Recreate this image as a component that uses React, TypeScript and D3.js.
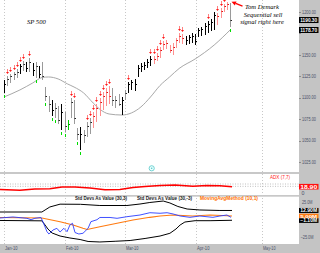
import React from "react";
import * as d3 from "d3";

const monthLabels = ["Jan-10", "Feb-10", "Mar-10", "Apr-10", "May-10"];
const monthPos = [0, 19.2, 38, 60.3, 81];
const priceTicks = [1025, 1050, 1075, 1100, 1125, 1150, 1175, 1200];

const highs = [1120.5,1125.2,1127.5,1129.8,1133.3,1139.1,1142.6,1141.4,1146.1,1140.3,
 1141.4,1136.8,1141.4,1112.3,1101.9,1097.2,1093.7,1090.2,1092.6,1083.2,
 1073.9,1099.5,1097.2,1064.6,1065.8,1062.3,1071.6,1076.3,1083.2,1092.6,
 1099.5,1106.5,1111.2,1113.5,1111.2,1101.9,1104.2,1100.7,1108.9,1118.2,
 1120.5,1121.7,1138.0,1140.3,1141.4,1144.9,1148.4,1148.4,1151.9,1158.9,
 1165.9,1167.1,1161.2,1163.6,1169.4,1175.2,1174.0,1171.7,1172.9,1175.2,
 1174.0,1181.0,1182.2,1186.8,1189.2,1191.5,1199.7,1198.5,1204.3,1209.0,
 1211.3,1210.1];
const lows = [1105.4,1113.5,1117.0,1120.5,1122.8,1127.5,1131.0,1129.8,1129.8,1125.2,
 1122.8,1122.8,1120.5,1096.0,1083.2,1078.6,1076.3,1069.3,1062.3,1060.0,
 1062.3,1076.3,1069.3,1050.6,1039.0,1047.2,1054.1,1057.6,1064.6,1071.6,
 1078.6,1085.6,1090.2,1092.6,1090.2,1087.9,1090.2,1079.7,1097.2,1105.4,
 1108.9,1107.7,1124.0,1129.8,1132.1,1134.5,1136.8,1139.1,1142.6,1146.1,
 1155.4,1156.6,1151.9,1149.6,1157.7,1163.6,1162.4,1161.2,1162.4,1163.6,
 1161.2,1170.6,1171.7,1172.9,1175.2,1177.5,1178.7,1184.5,1192.7,1199.7,
 1202.0,1182.2];
const closes = [1115.8,1121.7,1125.2,1127.5,1129.8,1136.8,1139.1,1134.5,1141.4,1132.1,
 1136.8,1127.5,1125.2,1101.9,1092.6,1085.6,1087.9,1073.9,1083.2,1066.9,
 1069.3,1094.9,1076.3,1057.6,1057.6,1056.5,1066.9,1071.6,1078.6,1087.9,
 1094.9,1101.9,1106.5,1101.9,1097.2,1097.2,1092.6,1097.2,1105.4,1115.8,
 1118.2,1115.8,1134.5,1136.8,1138.0,1141.4,1144.9,1144.9,1148.4,1155.4,
 1162.4,1163.6,1155.4,1158.9,1167.1,1171.7,1169.4,1167.1,1170.6,1171.7,
 1165.9,1178.7,1179.9,1183.4,1185.7,1188.0,1196.2,1195.0,1200.8,1206.6,
 1209.0,1190.3];
const barKinds = "kggggkgkgk" + "gkgggkggkg" + "Ggggkgggpp" + "ppppgggkgk" +
  "kkkkkkkppp" + "pppppppkkk" + "kkkkkkkppp" + "pg";
const redMarkIdx = [1,2,3,4,5,6,8,21,22,26,27,28,29,30,31,32,33,39,46,47,48,49,50,55,56,64,67,68,69,70];
const greenMarkIdx = [0,10,13,15,16,18,19,23,24,71];

const maIdx = [0,5,9,12,14,17,20,22,25,28,30,33,37,40,43,46,49,52,55,60,66,71];
const maVal = [1100.7,1108.9,1117.0,1123.4,1124.0,1121.7,1115.8,1112.3,1105.4,1093.7,1086.7,1080.9,1079.7,1082.1,1089.1,1100.7,1114.1,1124.0,1133.9,1144.9,1161.2,1178.7];

const adxIdx = [-1.3,5,9.7,14.4,18.2,22.3,27,31.7,36.4,40.5,44.3,49,53.7,59.3,63.7,67.8,71.6];
const adxVal = [10.5,8.1,12,12.6,18,18,15,9.6,10.5,16.5,19.5,22.5,24,20.1,22.5,21.9,18.9];
const adxLevels = [20, 27];

const upperIdx = [-1.3,11.9,12.9,14.4,17.6,24,30.1,38.6,42.7,45.8,50,52.1,54.6,57.5,61.5,67.8,71.6];
const upperVal = [10.7,10.7,13.6,17.9,21.9,21.7,20,20,22.1,24.3,26.4,23.6,18.6,15,13.6,12.9,12.9];
const lowerIdx = [-1.3,11.9,12.9,13.8,15.1,17.6,20.7,23.9,26.4,30.1,34.9,39.6,44.3,49,52.1,54,55.3,56.8,60,64.7,71.6];
const lowerVal = [-1.4,-1.9,-7.9,-13.6,-19.3,-23.6,-26.4,-28.6,-31.4,-32.1,-31.1,-30,-27.1,-23.6,-19.7,-13.6,-7.9,-3.6,-1.7,-1.7,-1.1];
const blueIdx = [-1.3,2.8,7.2,8.5,9.7,11.6,12.2,13.5,14.1,15.4,16.6,17.6,18.8,19.8,20.7,21.5,22.3,23.5,24.8,26.4,27.3,29.2,30.1,33.3,35.5,38.6,42.7,45.8,49,51.2,53.1,55.3,58.4,61.5,65.6,67.8,70,71.3];
const blueVal = [2.1,3.6,1.7,-0.3,1.7,2.9,-3.1,-17.4,-20.7,-15,-12.6,-17.9,-12.6,-17.4,-7.9,-5.4,-18.6,-20.7,-19.7,-12.6,-3.1,-0.3,2.9,2.9,1.7,4,6.4,9.7,8.9,9.7,7.9,5,3.1,5,3.1,5,6.4,3.1];
const orangeIdx = [-1.3,11.9,17.6,21.7,24.8,26.1,30.1,35.5,40.5,45.8,49,53.1,59.3,64.7,70,71.6];
const orangeVal = [2.9,2.1,-3.1,-7.9,-12.6,-14.3,-10.3,-5.4,-0.7,3.1,5,6.4,5,6.4,5.4,5];
const stdTicks = [25, -25];

const GRAY = "#c4c4c4";
const AXT = "#4a5068";
const SANS = "'Liberation Sans', Arial, sans-serif";
const SERIF = "'Liberation Serif', 'Times New Roman', serif";

export default function App() {
  const PR = 299;
  const x = d3.scaleLinear().domain([0, 71]).range([4, 230.1]);
  const yP = d3.scaleLinear().domain([1025, 1200]).range([162, 11.7]);
  const yA = d3.scaleLinear().domain([0, 60]).range([193, 173]);
  const yS = d3.scaleLinear().domain([-25, 25]).range([237, 202]);
  const px = (i: number) => Math.round(x(i)) + 0.5;

  const mk = (idx: number[], vals: number[], ys: d3.ScaleLinear<number, number>) =>
    d3.line<number>().x((_, i) => x(idx[i])).y((d) => ys(d)).curve(d3.curveLinear)(vals) || "";
  const maPath = d3.line<number>().x((_, i) => x(maIdx[i])).y((d) => yP(d)).curve(d3.curveMonotoneX)(maVal) || "";

  const colorOf: Record<string, string> = { k: "#000", g: "#9a9a9a", p: "#ff9090", G: "#00d000" };
  const tickOf: Record<string, string> = { k: "#000", g: "#222", p: "#e01010", G: "#009000" };

  const lastClose = closes[closes.length - 1];
  const lastMA = maVal[maVal.length - 1];
  const lastAdx = adxVal[adxVal.length - 1];
  const lastUp = upperVal[upperVal.length - 1];
  const lastLo = lowerVal[lowerVal.length - 1];
  const lastOr = orangeVal[orangeVal.length - 1];

  const box = (y: number, fill: string, label: string, key: string, h = 5.6, fs = 5.3) => (
    <g key={key}>
      <rect x={299} y={y - h / 2} width={19.5} height={h} fill={fill} />
      <text x={300.2} y={y + fs * 0.36} fill="#fff" fontSize={fs} fontWeight="bold" fontFamily={SANS}
        textLength={17} lengthAdjust="spacingAndGlyphs">{label}</text>
    </g>
  );

  const boxYs = [yP(lastClose), yP(lastMA)];
  const visiblePriceTicks = priceTicks.filter((t) => boxYs.every((b) => Math.abs(yP(t) - b) > 5));

  // std box positions (stacked without overlap)
  const yUp = yS(lastUp);
  const yOr = Math.max(yS(lastOr), yUp + 5);
  const yLo = Math.max(yS(lastLo), yOr + 4.6);

  // arrow annotation
  const tail = [242.5, 6.2], tip = [231.5, 1.8];
  const dx = tip[0] - tail[0], dy = tip[1] - tail[1];
  const len = Math.hypot(dx, dy);
  const ux = dx / len, uy = dy / len;
  const bx = tip[0] - ux * 4.5, by = tip[1] - uy * 4.5;
  const head = `M${tip[0]},${tip[1]} L${bx - uy * 2.2},${by + ux * 2.2} L${bx + uy * 2.2},${by - ux * 2.2} Z`;

  return (
    <div>
      <style>{"body{margin:0;padding:0;background:#fff}"}</style>
      <svg width={320} height={253} style={{ display: "block" }}>
        <defs>
          <clipPath id="cMain"><rect x={0} y={0} width={PR} height={172} /></clipPath>
          <clipPath id="cAdx"><rect x={0} y={174} width={PR} height={21} /></clipPath>
          <clipPath id="cStd"><rect x={0} y={196.7} width={PR} height={47} /></clipPath>
        </defs>
        <rect x={0} y={0} width={320} height={253} fill="#fff" />
        <rect x={PR} y={0} width={320 - PR} height={253} fill={GRAY} />
        <rect x={0} y={244} width={320} height={9} fill={GRAY} />
        <rect x={0} y={172} width={PR} height={2} fill="#c8c8c8" />
        <rect x={0} y={195} width={PR} height={1.7} fill="#c8c8c8" />

        {monthPos.map((m, i) => (
          <line key={"vg" + i} x1={Math.round(x(m)) + 0.5} x2={Math.round(x(m)) + 0.5} y1={0} y2={244}
            stroke="#c8c8c8" strokeWidth={1} strokeDasharray="1,2" />
        ))}

        <g clipPath="url(#cMain)">
          <path d={maPath} fill="none" stroke="#a8a8a8" strokeWidth={1} />
          {highs.map((h, i) => {
            const k = barKinds[i];
            const xx = px(i);
            return (
              <g key={"b" + i}>
                <line x1={xx} x2={xx} y1={Math.round(yP(h))} y2={Math.round(yP(lows[i]))} stroke={colorOf[k]} strokeWidth={1} />
                <line x1={xx} x2={xx + 1.5} y1={Math.round(yP(closes[i])) + 0.5} y2={Math.round(yP(closes[i])) + 0.5} stroke={tickOf[k]} strokeWidth={1} />
              </g>
            );
          })}
          {redMarkIdx.map((i) => {
            const xx = px(i);
            const yt = Math.round(yP(highs[i])) - 2;
            return (
              <g key={"r" + i}>
                <line x1={xx} x2={xx} y1={yt - 5} y2={yt - 1} stroke="#ff8080" strokeWidth={1} />
                <path d={`M${xx - 1.5},${yt - 2} L${xx + 1.5},${yt - 2} L${xx},${yt} Z`} fill="#ff1a1a" />
              </g>
            );
          })}
          {greenMarkIdx.map((i) => {
            const xx = px(i);
            const yb = Math.round(yP(lows[i])) + 2;
            return <line key={"gm" + i} x1={xx} x2={xx} y1={yb} y2={yb + 3} stroke="#00dd00" strokeWidth={1} />;
          })}
          <text x={27} y={24} fontSize={6.6} fontStyle="italic" fontFamily={SERIF} fill="#000">SP 500</text>
          <g fontSize={6.6} fontStyle="italic" fontFamily={SERIF} fill="#000" textAnchor="middle">
            <text x={262} y={9}>Tom Demark</text>
            <text x={263} y={16.5}>Sequential sell</text>
            <text x={262} y={24}>signal right here</text>
          </g>
          <line x1={tail[0]} y1={tail[1]} x2={bx} y2={by} stroke="#ff0000" strokeWidth={1.3} />
          <path d={head} fill="#ff0000" />
        </g>

        {priceTicks.map((t) => (
          <line key={"ptl" + t} x1={PR} x2={PR + 2} y1={Math.round(yP(t)) + 0.5} y2={Math.round(yP(t)) + 0.5} stroke="#8a8a8a" />
        ))}
        {visiblePriceTicks.map((t) => (
          <text key={"pt" + t} x={302} y={yP(t) + 1.9} fontSize={5.3} fill={AXT} fontFamily={SANS}
            textLength={14} lengthAdjust="spacingAndGlyphs">{d3.format(".2f")(t)}</text>
        ))}
        {box(yP(lastClose), "#000", d3.format(".2f")(lastClose), "bc", 6)}
        {box(yP(lastMA), "#000", d3.format(".2f")(lastMA), "bm", 6)}

        <circle cx={151.7} cy={168.3} r={2.6} fill="#eaffff" stroke="#55c8c8" strokeWidth={0.8} />
        <circle cx={151.7} cy={168.3} r={0.8} fill="#55c8c8" />

        {adxLevels.map((l) => (
          <line key={"al" + l} x1={0} x2={PR} y1={yA(l)} y2={yA(l)} stroke="#b0b0b0" strokeWidth={0.8} strokeDasharray="1,1.5" />
        ))}
        <g clipPath="url(#cAdx)">
          <path d={mk(adxIdx, adxVal, yA)} fill="none" stroke="#ff0000" strokeWidth={1.4} />
        </g>
        <text x={290} y={178.8} fontSize={5.4} fill="#ff2020" fontFamily={SANS} textAnchor="end"
          textLength={20} lengthAdjust="spacingAndGlyphs">ADX (7,7)</text>
        {box(yA(lastAdx), "#ff1010", d3.format(".2f")(lastAdx), "ba", 5.6)}
        <text x={301.5} y={195.3} fontSize={5.3} fill={AXT} fontFamily={SANS}>0</text>

        <g clipPath="url(#cStd)">
          <path d={mk(upperIdx, upperVal, yS)} fill="none" stroke="#000" strokeWidth={1} />
          <path d={mk(lowerIdx, lowerVal, yS)} fill="none" stroke="#000" strokeWidth={1} />
          <path d={mk(orangeIdx, orangeVal, yS)} fill="none" stroke="#ff7a10" strokeWidth={1.1} />
          <path d={mk(blueIdx, blueVal, yS)} fill="none" stroke="#2a3cff" strokeWidth={0.9} />
        </g>
        <g fontSize={5} fontFamily={SANS} fontWeight="bold">
          <text x={75} y={200.3} fill="#222" textLength={52} lengthAdjust="spacingAndGlyphs">Std Devs As Value (30,3)</text>
          <text x={137} y={200.3} fill="#222" textLength={55} lengthAdjust="spacingAndGlyphs">Std Devs As Value (30,-3)</text>
          <text x={200} y={200.3} fill="#ff7000" textLength={58} lengthAdjust="spacingAndGlyphs">MovingAvgMethod (10,1)</text>
        </g>
        {stdTicks.map((t) => (
          <text key={"st" + t} x={t < 0 ? 300.5 : 302} y={yS(t) + 1.9} fontSize={5.3} fill={AXT} fontFamily={SANS}
            textLength={t < 0 ? 13 : 10.5} lengthAdjust="spacingAndGlyphs">{d3.format(".1f")(t) + "M"}</text>
        ))}
        {box(yUp, "#000", d3.format(".2f")(lastUp) + "M", "bu", 5, 4.5)}
        {box(yOr, "#ff7a10", d3.format(".2f")(lastOr) + "M", "bo", 4.5, 4.2)}
        {box(yLo, "#000", d3.format(".2f")(lastLo) + "M", "bl", 4.6, 4.5)}

        {monthLabels.map((m, i) => (
          <text key={"ml" + i} x={Math.round(x(monthPos[i])) + 1} y={250.3} fontSize={5.3} fill={AXT} fontFamily={SANS}
            textLength={12.5} lengthAdjust="spacingAndGlyphs">{m}</text>
        ))}
      </svg>
    </div>
  );
}
